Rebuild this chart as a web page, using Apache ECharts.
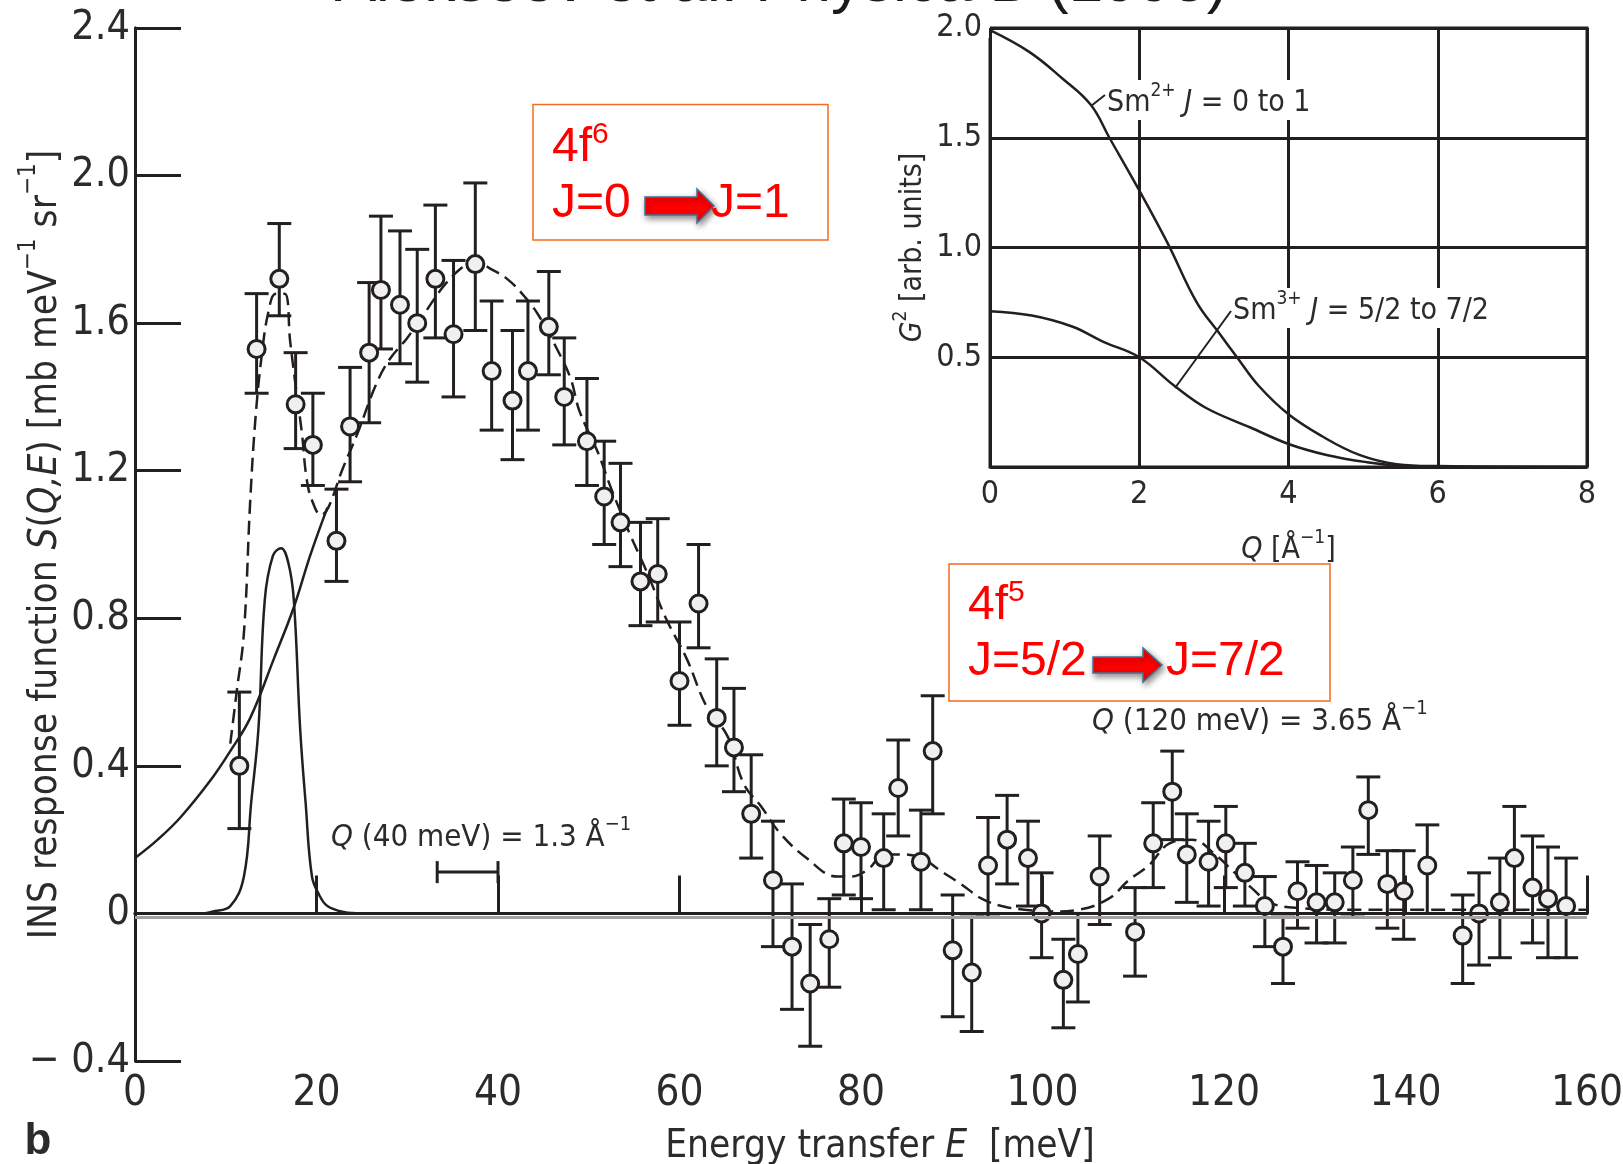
<!DOCTYPE html>
<html lang="en">
<head>
<meta charset="UTF-8">
<title>INS response Sm</title>
<script src="https://cdn.jsdelivr.net/npm/echarts@6/dist/echarts.min.js"></script>
<style>html,body{margin:0;padding:0;background:#fff}</style>
</head>
<body>
<div id="main" style="width:1623px;height:1164px;"></div>
<script>
// measured points: energy transfer (meV), S(Q,E) and the ends of each error bar
var energy = [11.5, 13.4, 15.9, 17.7, 19.6, 22.2, 23.7, 25.8, 27.1, 29.2, 31.1, 33.1, 35.1, 37.5, 39.3,
    41.6, 43.3, 45.6, 47.3, 49.8, 51.7, 53.5, 55.7, 57.6, 60.0, 62.1, 64.1, 66.0, 67.9, 70.3,
    72.4, 74.4, 76.5, 78.1, 80.0, 82.5, 84.1, 86.6, 87.9, 90.1, 92.2, 94.0, 96.1, 98.4, 99.9,
    102.3, 103.9, 106.3, 110.2, 112.2, 114.3, 115.9, 118.3, 120.2, 122.3, 124.5, 126.5, 128.1, 130.2, 132.2,
    134.2, 135.9, 138.0, 139.8, 142.4, 146.3, 148.1, 150.4, 152.0, 154.0, 155.7, 157.7];
var sqe = [0.40, 1.53, 1.72, 1.38, 1.27, 1.01, 1.32, 1.52, 1.69, 1.65, 1.60, 1.72, 1.57, 1.76, 1.47,
    1.39, 1.47, 1.59, 1.40, 1.28, 1.13, 1.06, 0.90, 0.92, 0.63, 0.84, 0.53, 0.45, 0.27, 0.09,
    -0.09, -0.19, -0.07, 0.19, 0.18, 0.15, 0.34, 0.14, 0.44, -0.10, -0.16, 0.13, 0.20, 0.15, 0.00,
    -0.18, -0.11, 0.10, -0.05, 0.19, 0.33, 0.16, 0.14, 0.19, 0.11, 0.02, -0.09, 0.06, 0.03, 0.03,
    0.09, 0.28, 0.08, 0.06, 0.13, -0.06, 0.00, 0.03, 0.15, 0.07, 0.04, 0.02];
var errLow = [0.23, 1.41, 1.62, 1.26, 1.16, 0.90, 1.17, 1.33, 1.53, 1.49, 1.44, 1.56, 1.40, 1.58, 1.31,
    1.23, 1.31, 1.46, 1.27, 1.16, 1.00, 0.94, 0.78, 0.79, 0.51, 0.72, 0.40, 0.33, 0.15, -0.09,
    -0.26, -0.36, -0.20, 0.05, 0.04, 0.01, 0.21, 0.01, 0.27, -0.28, -0.32, -0.01, 0.08, 0.02, -0.12,
    -0.31, -0.24, -0.03, -0.17, 0.07, 0.20, 0.03, 0.02, 0.07, 0.02, -0.09, -0.19, -0.04, -0.08, -0.08,
    -0.01, 0.16, -0.04, -0.07, 0.00, -0.19, -0.14, -0.12, 0.00, -0.08, -0.12, -0.12];
var errHigh = [0.60, 1.68, 1.87, 1.52, 1.41, 1.15, 1.48, 1.71, 1.89, 1.85, 1.80, 1.92, 1.77, 1.98, 1.66,
    1.58, 1.66, 1.74, 1.56, 1.45, 1.28, 1.22, 1.06, 1.07, 0.79, 1.00, 0.69, 0.61, 0.43, 0.25,
    0.08, -0.03, 0.04, 0.31, 0.30, 0.27, 0.47, 0.28, 0.59, 0.05, -0.01, 0.26, 0.32, 0.25, 0.11,
    -0.07, 0.00, 0.21, 0.07, 0.30, 0.44, 0.27, 0.25, 0.29, 0.19, 0.10, -0.01, 0.14, 0.13, 0.11,
    0.18, 0.37, 0.17, 0.17, 0.24, 0.05, 0.11, 0.15, 0.29, 0.21, 0.18, 0.15];

// fit curves  [E, S]
var fitBroad = [[0, 0.15], [2.5, 0.2], [5, 0.26], [8.3, 0.36], [10.5, 0.44], [12.7, 0.53], [15.3, 0.69],
    [17.5, 0.83], [19.3, 0.97], [21.2, 1.1]];
var fitPeak16 = [[7.5, 0], [8.5, 0.005], [10.5, 0.02], [12, 0.1], [12.8, 0.3], [13.6, 0.5], [14.3, 0.85],
    [15.2, 0.97], [16.1, 0.99], [16.9, 0.95], [17.5, 0.85], [18.2, 0.5], [18.8, 0.3], [19.5, 0.1],
    [20.3, 0.05], [21.2, 0.02], [23, 0.004], [25, 0]];
var fitTotal = [[10.5, 0.46], [11.2, 0.6], [12.0, 0.76], [12.7, 1.12], [13.3, 1.35], [14.0, 1.52], [14.7, 1.63],
    [15.5, 1.68], [16.5, 1.68], [17.1, 1.55], [17.6, 1.45], [18.4, 1.3], [18.9, 1.18], [19.5, 1.12],
    [20.5, 1.08], [21.3, 1.1], [22.8, 1.2], [24.5, 1.3], [26.5, 1.43], [28, 1.5], [30, 1.56], [32, 1.63],
    [34, 1.7], [36, 1.75], [37.5, 1.77], [39, 1.75], [41, 1.72], [43, 1.67], [44.5, 1.62], [46.5, 1.53],
    [48, 1.45], [49, 1.36], [51, 1.25], [52.5, 1.15], [54.5, 1.03], [56.5, 0.92], [58.5, 0.8], [60.8, 0.69],
    [63, 0.56], [65.3, 0.48], [67.1, 0.35], [69, 0.29], [71, 0.22], [74, 0.15], [77.4, 0.1], [79, 0.1],
    [80.8, 0.12], [82.6, 0.16], [84.5, 0.16], [86.7, 0.15], [88.5, 0.12], [91, 0.08], [93.3, 0.04],
    [95.5, 0.02], [98, 0.01], [101, 0.005], [104, 0.01], [107.3, 0.04], [109.5, 0.09], [111.7, 0.13],
    [114, 0.19], [116.5, 0.2], [119, 0.16], [121.2, 0.11], [123, 0.07], [125, 0.03], [128, 0.015],
    [135, 0.01], [145, 0.01], [160, 0.01]];

// resolution bar at 40 meV: from, to, height
var scaleBar40 = [33.3, 40.0, 0.112];

// inset: G^2 versus Q
var sm2Q = [0, 0.53, 0.97, 1.35, 1.6, 2.0, 2.38, 2.77, 3.07, 3.31, 3.6, 4.0, 4.45, 4.95, 5.45, 6.0, 8.0];
var sm2G = [1.99, 1.89, 1.77, 1.65, 1.5, 1.26, 1.02, 0.75, 0.61, 0.5, 0.37, 0.24, 0.14, 0.055, 0.013, 0.004, 0];
var sm3Q = [0, 0.56, 1.1, 1.52, 2.0, 2.47, 2.89, 3.49, 4.0, 4.51, 5.05, 5.5, 6.0, 8.0];
var sm3G = [0.71, 0.69, 0.64, 0.57, 0.5, 0.37, 0.27, 0.18, 0.105, 0.055, 0.022, 0.006, 0, 0];

// axis ranges
var mainX = [0, 160, 20];
var mainY = [-0.4, 2.4, 0.4];
var insetX = [0, 8, 2];
var insetY = [0, 2, 0.5];

var ink = '#231f20';
var txt = '#2b2b2b';
var narrow = "'DejaVu Sans', Roboto, sans-serif";
var cond = 'condensed';   // goes into the font shorthand as font-stretch
var arial = "'Liberation Sans', Arial, sans-serif";

function zip(a, b) { return a.map(function (v, i) { return [v, b[i]]; }); }

function richSet(size, supSize, lh, color, family, weight) {
    var base = {fontSize: size, fontFamily: family, fontWeight: weight, color: color, fill: color,
        verticalAlign: 'bottom', lineHeight: lh};
    return {
        n: base,
        i: Object.assign({}, base, {fontStyle: 'italic'}),
        s: Object.assign({}, base, {fontSize: supSize, verticalAlign: 'top'})
    };
}

var myChart = echarts.init(document.getElementById('main'));

var richMain = richSet(38.5, 24, 48, txt, narrow, cond);
var richInset = richSet(30, 19, 36, txt, narrow, cond);
var richQ = richSet(31, 20, 38, txt, narrow, cond);
var richRed = richSet(48, 30, 52, '#ff0000', arial, 'normal');

function arrow(x0, yc, body, head, bodyH, headH) {
    return {
        type: 'polygon', z: 22,
        shape: {points: [[x0, yc - bodyH], [x0 + body, yc - bodyH], [x0 + body, yc - headH],
            [x0 + body + head, yc], [x0 + body, yc + headH], [x0 + body, yc + bodyH], [x0, yc + bodyH]]},
        style: {fill: '#ff0000', stroke: '#41719c', lineWidth: 1.5,
            shadowBlur: 6, shadowColor: 'rgba(0,0,0,0.45)', shadowOffsetX: 2, shadowOffsetY: 3}
    };
}

function errorBar(params, api) {
    var x = api.value(0);
    var lo = api.coord([x, api.value(1)]);
    var hi = api.coord([x, api.value(2)]);
    var w = 12;
    var st = {stroke: ink, lineWidth: 3};
    return {type: 'group', children: [
        {type: 'line', shape: {x1: lo[0], y1: lo[1], x2: hi[0], y2: hi[1]}, style: st},
        {type: 'line', shape: {x1: lo[0] - w, y1: lo[1], x2: lo[0] + w, y2: lo[1]}, style: st},
        {type: 'line', shape: {x1: hi[0] - w, y1: hi[1], x2: hi[0] + w, y2: hi[1]}, style: st}
    ]};
}

function hBar(params, api) {
    var a = api.coord([api.value(0), api.value(2)]);
    var b = api.coord([api.value(1), api.value(2)]);
    var st = {stroke: ink, lineWidth: 3};
    return {type: 'group', children: [
        {type: 'line', shape: {x1: a[0], y1: a[1], x2: b[0], y2: b[1]}, style: st},
        {type: 'line', shape: {x1: a[0], y1: a[1] - 11, x2: a[0], y2: a[1] + 11}, style: st},
        {type: 'line', shape: {x1: b[0], y1: b[1] - 11, x2: b[0], y2: b[1] + 11}, style: st}
    ]};
}

var option = {
    animation: false,
    backgroundColor: '#fff',
    grid: [
        {left: 135, top: 28, right: 36, bottom: 103, outerBoundsMode: 'none', containLabel: false},
        {left: 990, top: 28, width: 597, height: 439, show: true, z: 4, outerBoundsMode: 'none',
            containLabel: false, backgroundColor: '#fff', borderColor: ink, borderWidth: 3}
    ],
    xAxis: [
        {
            type: 'value', gridIndex: 0, min: mainX[0], max: mainX[1], interval: mainX[2],
            axisLine: {lineStyle: {color: ink, width: 3}},
            axisTick: {inside: true, length: 38, lineStyle: {color: ink, width: 3}},
            axisLabel: {fontSize: 42, fontFamily: narrow, fontWeight: cond, color: txt, margin: 12},
            splitLine: {show: false},
            name: '{n|Energy transfer }{i|E}{n|  [meV]}',
            nameLocation: 'middle', nameGap: 57, nameMoveOverlap: false,
            nameTextStyle: {rich: richMain, padding: [0, 0, 0, 38]}
        },
        {
            type: 'value', gridIndex: 0, position: 'top', min: mainX[0], max: mainX[1],
            axisLine: {lineStyle: {color: ink, width: 3}},
            axisTick: {show: false}, axisLabel: {show: false}, splitLine: {show: false}
        },
        {
            type: 'value', gridIndex: 1, min: insetX[0], max: insetX[1], interval: insetX[2], z: 10,
            axisLine: {show: false}, axisTick: {show: false},
            axisLabel: {fontSize: 32, fontFamily: narrow, fontWeight: cond, color: txt, margin: 12},
            splitLine: {show: true, lineStyle: {color: ink, width: 3}},
            name: '{i|Q}{n| [Å}{s|−1}{n|]}',
            nameLocation: 'middle', nameGap: 62, nameMoveOverlap: false,
            nameTextStyle: {rich: richInset}
        }
    ],
    yAxis: [
        {
            type: 'value', gridIndex: 0, min: mainY[0], max: mainY[1], interval: mainY[2],
            axisLine: {lineStyle: {color: ink, width: 3}},
            axisTick: {inside: true, length: 46, lineStyle: {color: ink, width: 3}},
            axisLabel: {
                fontSize: 41, fontFamily: narrow, fontWeight: cond, color: txt, margin: 5,
                formatter: function (v) {
                    if (Math.abs(v) < 1e-9) return '0';
                    return v < 0 ? '\u2212 ' + Math.abs(v).toFixed(1) : v.toFixed(1);
                }
            },
            splitLine: {show: false},
            name: '{n|INS response function }{i|S}{n|(}{i|Q,E}{n|) [mb meV}{s|−1}{n| sr}{s|−1}{n|]}',
            nameLocation: 'middle', nameGap: 70, nameMoveOverlap: false,
            nameTextStyle: {rich: richMain}
        },
        {
            type: 'value', gridIndex: 0, position: 'right', min: mainY[0], max: mainY[1],
            axisLine: {lineStyle: {color: ink, width: 3}},
            axisTick: {show: false}, axisLabel: {show: false}, splitLine: {show: false}
        },
        {
            type: 'value', gridIndex: 1, min: insetY[0], max: insetY[1], interval: insetY[2], z: 10,
            axisLine: {show: false}, axisTick: {show: false},
            axisLabel: {
                fontSize: 32, fontFamily: narrow, fontWeight: cond, color: txt, margin: 8,
                formatter: function (v) { return v === 0 ? '' : v.toFixed(1); }
            },
            splitLine: {show: true, lineStyle: {color: ink, width: 3}},
            name: '{i|G}{s|2}{n| [arb. units]}',
            nameLocation: 'middle', nameGap: 62, nameMoveOverlap: false,
            nameTextStyle: {rich: richInset}
        }
    ],
    series: [
        {
            name: 'broad', type: 'line', xAxisIndex: 0, yAxisIndex: 0, data: fitBroad,
            showSymbol: false, smooth: 0.4, z: 2,
            lineStyle: {color: ink, width: 2.5},
            markLine: {
                silent: true, symbol: 'none', label: {show: false},
                data: [
                    {yAxis: -0.0075, lineStyle: {color: '#a0a0a0', width: 3, type: 'solid'}},
                    {yAxis: 0, lineStyle: {color: ink, width: 3, type: 'solid'}}
                ]
            }
        },
        {
            name: 'peak16', type: 'line', xAxisIndex: 0, yAxisIndex: 0, data: fitPeak16,
            showSymbol: false, smooth: 0.4, z: 2,
            lineStyle: {color: ink, width: 2.5}
        },
        {
            name: 'total', type: 'line', xAxisIndex: 0, yAxisIndex: 0, data: fitTotal,
            showSymbol: false, smooth: 0.4, z: 2,
            lineStyle: {color: ink, width: 2.5, type: [14, 7]}
        },
        {
            name: 'errors', type: 'custom', xAxisIndex: 0, yAxisIndex: 0, z: 3,
            renderItem: errorBar,
            encode: {x: 0, y: [1, 2]},
            data: energy.map(function (e, i) { return [e, errLow[i], errHigh[i]]; })
        },
        {
            name: 'S(Q,E)', type: 'scatter', xAxisIndex: 0, yAxisIndex: 0, z: 4,
            data: zip(energy, sqe), symbol: 'circle', symbolSize: 17,
            itemStyle: {color: '#f0f0f0', borderColor: ink, borderWidth: 3, opacity: 1}
        },
        {
            name: 'resolution', type: 'custom', xAxisIndex: 0, yAxisIndex: 0, z: 3,
            renderItem: hBar, encode: {x: [0, 1], y: 2},
            data: [scaleBar40]
        },
        {
            name: 'Sm2+', type: 'line', xAxisIndex: 2, yAxisIndex: 2, data: zip(sm2Q, sm2G),
            showSymbol: false, smooth: 0.4, z: 11,
            lineStyle: {color: ink, width: 2.5}
        },
        {
            name: 'Sm3+', type: 'line', xAxisIndex: 2, yAxisIndex: 2, data: zip(sm3Q, sm3G),
            showSymbol: false, smooth: 0.4, z: 11,
            lineStyle: {color: ink, width: 2.5}
        }
    ],
    graphic: [
        // hide the main frame where the inset labels sit
        {type: 'rect', z: 5, shape: {x: 921, y: 18, width: 69, height: 20}, style: {fill: '#fff'}},
        {type: 'text', z: 30, x: 781, y: 15,
            style: {text: 'Alekseev et al. Physica B (1995)', font: '62px ' + arial, fill: '#1a1a1a',
                align: 'center', verticalAlign: 'bottom'}},
        {type: 'text', z: 30, x: 38, y: 1142,
            style: {text: 'b', font: 'bold 44px ' + arial, fill: txt, align: 'center', verticalAlign: 'middle'}},

        // 4f6 box
        {type: 'rect', z: 20, shape: {x: 533, y: 104.5, width: 295, height: 135.5},
            style: {fill: '#fff', stroke: '#f26b21', lineWidth: 1.5}},
        {type: 'text', z: 21, x: 552, y: 146,
            style: {text: '{n|4f}{s|6}', rich: richRed, verticalAlign: 'middle'}},
        {type: 'text', z: 21, x: 552, y: 204,
            style: {text: 'J=0', font: '48px ' + arial, fill: '#ff0000', verticalAlign: 'middle'}},
        arrow(645, 206, 52, 17, 9, 17),
        {type: 'text', z: 23, x: 711, y: 204,
            style: {text: 'J=1', font: '48px ' + arial, fill: '#ff0000', verticalAlign: 'middle'}},

        // 4f5 box
        {type: 'rect', z: 20, shape: {x: 949, y: 564, width: 381, height: 137},
            style: {fill: '#fff', stroke: '#f26b21', lineWidth: 1.5}},
        {type: 'text', z: 21, x: 968, y: 604,
            style: {text: '{n|4f}{s|5}', rich: richRed, verticalAlign: 'middle'}},
        {type: 'text', z: 21, x: 968, y: 662,
            style: {text: 'J=5/2', font: '48px ' + arial, fill: '#ff0000', verticalAlign: 'middle'}},
        arrow(1093, 665, 50, 19, 8, 17),
        {type: 'text', z: 23, x: 1166, y: 662,
            style: {text: 'J=7/2', font: '48px ' + arial, fill: '#ff0000', verticalAlign: 'middle'}},

        // Q notes
        {type: 'text', z: 21, x: 331, y: 834,
            style: {text: '{i|Q}{n| (40 meV) = 1.3 Å}{s|−1}', rich: richQ, verticalAlign: 'middle'}},
        {type: 'text', z: 21, x: 1092, y: 718,
            style: {text: '{i|Q}{n| (120 meV) = 3.65 Å}{s|−1}', rich: richQ, verticalAlign: 'middle'}},

        // inset curve labels
        {type: 'text', z: 12, x: 1105, y: 100,
            style: {text: '{n|Sm}{s|2+}{n| }{i|J}{n| = 0 to 1}', rich: richInset, verticalAlign: 'middle',
                backgroundColor: '#fff', padding: [2, 4, 2, 2]}},
        {type: 'line', z: 13, shape: {x1: 1091, y1: 106, x2: 1105, y2: 95}, style: {stroke: ink, lineWidth: 2}},
        {type: 'text', z: 12, x: 1231, y: 308,
            style: {text: '{n|Sm}{s|3+}{n| }{i|J}{n| = 5/2 to 7/2}', rich: richInset, verticalAlign: 'middle',
                backgroundColor: '#fff', padding: [2, 4, 2, 2]}},
        {type: 'line', z: 13, shape: {x1: 1175, y1: 388, x2: 1231, y2: 311}, style: {stroke: ink, lineWidth: 2}}
    ]
};

myChart.setOption(option);
</script>
</body>
</html>
